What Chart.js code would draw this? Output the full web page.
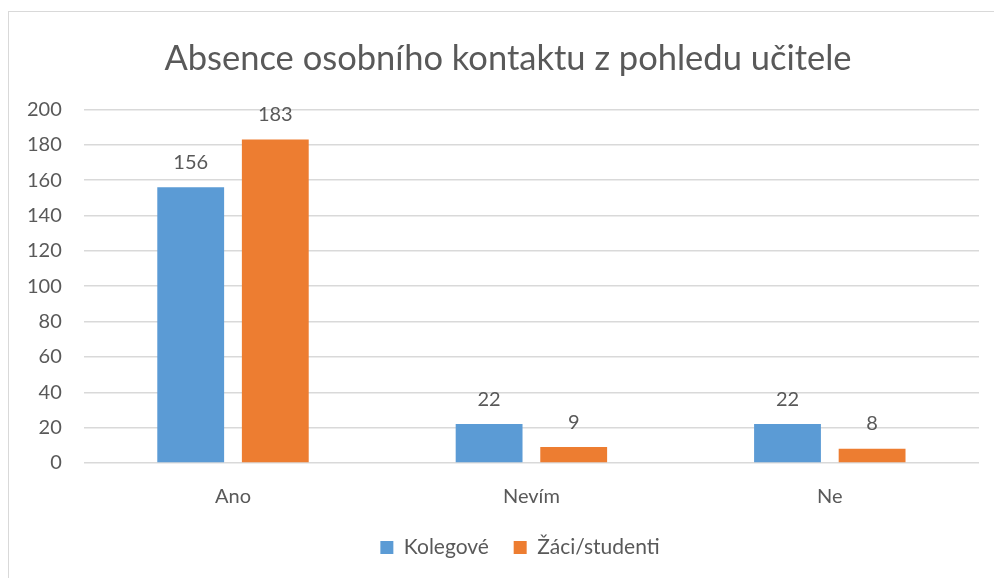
<!DOCTYPE html>
<html>
<head>
<meta charset="utf-8">
<script src="https://cdn.jsdelivr.net/npm/chart.js@4"></script>
<style>
  html, body { margin: 0; padding: 0; background: #fff; }
  #wrap { position: relative; width: 994px; height: 578px; overflow: hidden; }
  #frame { position: absolute; left: 8px; top: 11px; width: 1000px; height: 600px; border: 1px solid #d9d9d9; box-sizing: border-box; }
  #graf { position: absolute; left: 0; top: 0; }
</style>
</head>
<body>
<div id="wrap">
  <div id="frame"></div>
  <canvas id="graf" width="994" height="578"></canvas>
</div>
<script>
let kategorie = ['Ano', 'Nevím', 'Ne']
let kolegove = [156, 22, 22]
let zaci = [183, 9, 8]
let nazvy = ['Kolegové', 'Žáci/studenti']

const font = 'Lato, "Open Sans", sans-serif'
const seda = '#595959'

// popisky hodnot nad sloupci
const popisky = {
    id: 'popisky',
    afterLayout(chart) {
        // titulek a legenda jsou v originale posunute vpravo (ramecek jde za okraj)
        chart.titleBlock.left += 16
        chart.titleBlock.right += 16
        chart.legend.left += 28
        chart.legend.right += 28
    },
    afterDatasetsDraw(chart) {
        const ctx = chart.ctx
        ctx.save()
        ctx.font = '20px ' + font
        ctx.fillStyle = seda
        ctx.textAlign = 'center'
        ctx.textBaseline = 'middle'
        chart.data.datasets.forEach((ds, i) => {
            chart.getDatasetMeta(i).data.forEach((bar, j) => {
                ctx.fillText(ds.data[j], bar.x, bar.y - 25)
            })
        })
        ctx.restore()
    }
}

const graf = document.getElementById('graf')

new Chart(graf, {
    type: 'bar',
    data: {
        labels: kategorie,
        datasets: [{
            label: nazvy[0],
            data: kolegove,
            backgroundColor: '#5b9bd5',
            categoryPercentage: 0.567,
            barPercentage: 0.79
        }, {
            label: nazvy[1],
            data: zaci,
            backgroundColor: '#ed7d31',
            categoryPercentage: 0.567,
            barPercentage: 0.79
        }]
    },
    options: {
        responsive: false,
        animation: false,
        layout: { padding: { left: 5, right: 15, top: 28, bottom: 10 } },
        plugins: {
            title: {
                display: true,
                text: 'Absence osobního kontaktu z pohledu učitele',
                color: seda,
                font: { family: font, size: 34.5, weight: 'normal' },
                padding: { top: 10, bottom: 30 }
            },
            legend: {
                position: 'bottom',
                labels: {
                    color: seda,
                    font: { family: font, size: 21 },
                    boxWidth: 13,
                    boxHeight: 13,
                    padding: 14,
                    generateLabels(chart) {
                        const items = Chart.defaults.plugins.legend.labels.generateLabels(chart)
                        // vetsi mezera mezi polozkami
                        items[0].text = items[0].text + '  '
                        return items
                    }
                }
            },
            tooltip: { enabled: false }
        },
        scales: {
            x: {
                grid: { display: false },
                border: { display: false },
                ticks: { color: seda, font: { family: font, size: 20 }, padding: 14 }
            },
            y: {
                min: 0,
                max: 200,
                ticks: { stepSize: 20, color: seda, font: { family: font, size: 20 }, padding: 22 },
                grid: { color: '#d9d9d9', lineWidth: 1.5, drawTicks: false },
                border: { display: false }
            }
        }
    },
    plugins: [popisky]
})
</script>
</body>
</html>
